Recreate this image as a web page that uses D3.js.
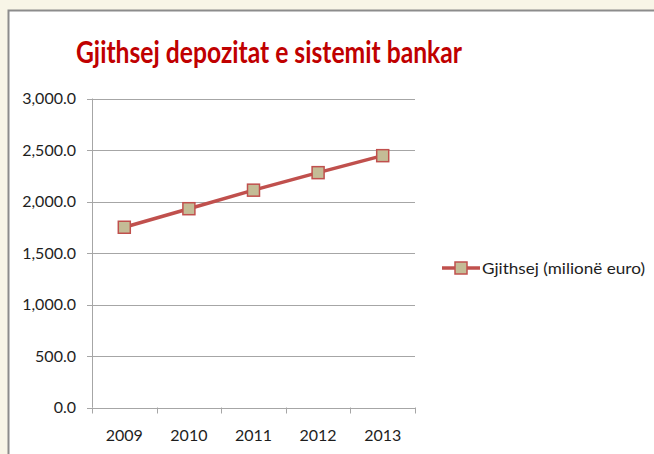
<!DOCTYPE html>
<html><head><meta charset="utf-8">
<script src="https://cdn.jsdelivr.net/npm/d3@7"></script>
<style>body{margin:0;background:#f8f5e7;}svg{display:block;}</style>
</head><body>
<script>
const years = ["2009","2010","2011","2012","2013"];
const values = [1750, 1930, 2110, 2280, 2445];
const yTicks = [0, 500, 1000, 1500, 2000, 2500, 3000];
const title = "Gjithsej depozitat e sistemit bankar";
const seriesName = "Gjithsej (milionë euro)";

const W = 654, H = 454;
const svg = d3.select("body").append("svg").attr("width", W).attr("height", H);
svg.append("rect").attr("width", W).attr("height", H).attr("fill", "#f8f5e7");
svg.append("rect").attr("x", 8.5).attr("y", 10.5).attr("width", W).attr("height", H)
  .attr("fill", "#fff").attr("stroke", "#8c8c8c").attr("stroke-width", 2);

const font = "Lato, sans-serif";
svg.append("text").attr("x", 269).attr("y", 63).attr("text-anchor", "middle")
  .attr("font-family", font).attr("font-weight", "bold")
  .attr("font-size", 31).attr("fill", "#c00000")
  .attr("textLength", 386).attr("lengthAdjust", "spacingAndGlyphs").text(title);

const x = d3.scaleBand().domain(years).range([92, 415]);
const y = d3.scaleLinear().domain([0, 3000]).range([407.5, 98.5]);

const g = svg.append("g");
g.selectAll("line.grid").data(yTicks).join("line")
  .attr("x1", 87).attr("x2", 415).attr("y1", d => Math.round(y(d)) + 0.5).attr("y2", d => Math.round(y(d)) + 0.5)
  .attr("stroke", "#a6a6a6").attr("stroke-width", 1);
g.append("line").attr("x1", 92.5).attr("x2", 92.5).attr("y1", y(3000)).attr("y2", y(0))
  .attr("stroke", "#a6a6a6");
const xt = years.map(d => x(d)).concat([415]);
g.selectAll("line.xt").data(xt).join("line")
  .attr("x1", d => Math.round(d) + 0.5).attr("x2", d => Math.round(d) + 0.5)
  .attr("y1", y(0)).attr("y2", y(0) + 6).attr("stroke", "#a6a6a6");

g.selectAll("text.yl").data(yTicks).join("text")
  .attr("x", 76).attr("y", d => y(d) + 5.5).attr("text-anchor", "end")
  .attr("font-family", font).attr("font-size", 16).attr("fill", "#1e1e1e")
  .text(d => d3.format(",.1f")(d));

g.selectAll("text.xl").data(years).join("text")
  .attr("x", d => x(d) + x.bandwidth() / 2).attr("y", 441).attr("text-anchor", "middle")
  .attr("font-family", font).attr("font-size", 16).attr("fill", "#1e1e1e")
  .text(d => d);

const line = d3.line().x((d, i) => x(years[i]) + x.bandwidth() / 2).y(d => y(d));
g.append("path").attr("d", line(values)).attr("fill", "none")
  .attr("stroke", "#c0504d").attr("stroke-width", 3.5);
g.selectAll("rect.m").data(values).join("rect")
  .attr("x", (d, i) => x(years[i]) + x.bandwidth() / 2 - 6)
  .attr("y", d => y(d) - 6).attr("width", 12).attr("height", 12)
  .attr("fill", "#c4bc96").attr("stroke", "#c0504d").attr("stroke-width", 1.5);

const lg = svg.append("g");
lg.append("line").attr("x1", 442).attr("x2", 480).attr("y1", 268).attr("y2", 268)
  .attr("stroke", "#c0504d").attr("stroke-width", 3.5);
lg.append("rect").attr("x", 455).attr("y", 262).attr("width", 12).attr("height", 12)
  .attr("fill", "#c4bc96").attr("stroke", "#c0504d").attr("stroke-width", 1.5);
lg.append("text").attr("x", 482).attr("y", 274).attr("font-family", font).attr("font-size", 16)
  .attr("fill", "#1e1e1e").attr("textLength", 163).attr("lengthAdjust", "spacingAndGlyphs").text(seriesName);
</script>
</body></html>
